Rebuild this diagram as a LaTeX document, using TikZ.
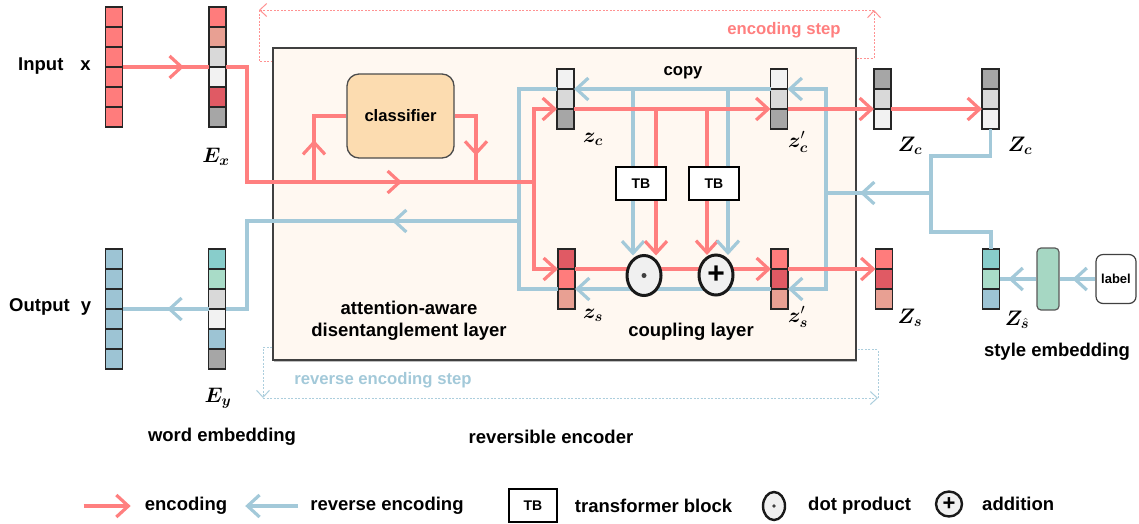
\RequirePackage{fix-cm}
\documentclass[tikz,border=0pt]{standalone}
\usepackage{bm}
\usepackage{fontspec}
\setmainfont{Liberation Sans}
\usetikzlibrary{arrows.meta,positioning,calc,shapes.geometric,decorations.markings,shadows}

\definecolor{encred}{HTML}{FF7F7F}
\definecolor{revblue}{HTML}{A3C9D9}
\definecolor{cred}{HTML}{FF7C7C}
\definecolor{cdred}{HTML}{E05A64}
\definecolor{cpink}{HTML}{E8A093}
\definecolor{clg}{HTML}{F2F2F2}
\definecolor{cmg}{HTML}{D9D9D9}
\definecolor{cdg}{HTML}{A6A6A6}
\definecolor{cteal}{HTML}{88CDCB}
\definecolor{cmint}{HTML}{A9DCC8}
\definecolor{cblue}{HTML}{9DC4D4}
\definecolor{boxfill}{HTML}{FFF8F1}
\definecolor{clsfill}{HTML}{FCDCB0}
\definecolor{embfill}{HTML}{A6D7C3}

\tikzset{
  vtip/.tip={Straight Barb[length=12pt,width=22pt]},
  stip/.tip={Straight Barb[length=7pt,width=13pt]},
}

% one column vector: name, x, top y, cell colours
\newcommand{\cellvec}[4]{%
  \foreach \c [count=\i] in {#4}
    \node[cell,fill=\c] (#1-\i) at (#2,{#3+(\i-0.5)*20}) {};}

\begin{document}
\begin{tikzpicture}[x=1pt,y=-1pt,
cell/.style={draw=black!85,line width=1.6pt,minimum width=17pt,minimum height=20pt,inner sep=0pt,outer sep=0pt},
enc/.style={draw=encred,line width=3.2pt},
rev/.style={draw=revblue,line width=3.2pt},
mid/.style={postaction={decorate,decoration={markings,mark=at position #1 with {\arrow{vtip}}}}},
encdot/.style={draw=encred!85,line width=1pt,dash pattern=on 2pt off 1.5pt},
revdot/.style={draw=revblue!90,line width=1pt,dash pattern=on 2pt off 1.5pt},
txt/.style={inner sep=0pt,font=\fontsize{18.5}{22}\selectfont\bfseries},
small/.style={inner sep=0pt,font=\fontsize{16.7}{18}\selectfont\bfseries},
mathlbl/.style={inner sep=0pt,font=\fontsize{21}{21}\selectfont},
tbblock/.style={draw=black,line width=1.5pt,fill=white,minimum width=50pt,minimum height=33pt,inner sep=0pt,font=\fontsize{14}{14}\selectfont\bfseries},
opcircle/.style={ellipse,draw=black!90,line width=3pt,fill=black!6,minimum width=34pt,minimum height=40pt,inner sep=0pt,outer sep=0pt},
encbox/.style={draw=black!75,line width=1.4pt,fill=boxfill,minimum width=583pt,minimum height=312pt,
  drop shadow={shadow xshift=0.6pt,shadow yshift=-1.8pt,fill=black!50}},
clsbox/.style={draw=black!70,line width=1.3pt,fill=clsfill,rounded corners=12pt,minimum width=107pt,minimum height=84pt,
  font=\fontsize{16.6}{17}\selectfont\bfseries}]
\useasboundingbox (0,0) rectangle (1139,523);

\node[encbox] (enc) at (564.5,204) {};
\node[clsbox] (cls) at (400.5,116) {classifier};

% vectors
\cellvec{inp}{114}{7}{cred,cred,cred,cred,cred,cred}
\cellvec{ex}{217.5}{7}{cred,cpink,cmg,clg,cdred,cdg}
\cellvec{out}{114}{249}{cblue,cblue,cblue,cblue,cblue,cblue}
\cellvec{ey}{217}{249}{cteal,cmint,cmg,clg,cblue,cdg}
\cellvec{zc}{565.5}{69}{clg,cmg,cdg}
\cellvec{zcp}{779}{69}{clg,cmg,cdg}
\cellvec{zs}{566.5}{249}{cdred,cred,cpink}
\cellvec{zsp}{779.5}{249}{cred,cdred,cpink}
\cellvec{Zc}{882.5}{69}{cdg,cmg,clg}
\cellvec{Zcc}{990.5}{69}{cdg,cmg,clg}
\cellvec{Zs}{884}{249}{cred,cdred,cpink}
\cellvec{Zh}{991}{249}{cteal,cmint,cblue}

\node[tbblock] (tb1) at (641,183.5) {TB};
\node[tbblock] (tb2) at (714,183.5) {TB};
\node[draw=black!65,line width=1.2pt,fill=embfill,rounded corners=4pt,minimum width=22pt,minimum height=62pt,inner sep=0pt] (emb) at (1048,279) {};
\node[draw=black!75,line width=1.2pt,fill=white,rounded corners=7pt,minimum width=40pt,minimum height=49pt,inner sep=0pt,
  font=\fontsize{13}{13}\selectfont\bfseries] (lab) at (1116,279) {label};

\coordinate (kin) at (534,182);
\coordinate (kex) at (247,182);
\coordinate (kup) at (314,182);
\coordinate (kdn) at (476,182);
\coordinate (kout) at (519,221);
\coordinate (kleft) at (247,221);
\coordinate (kright) at (826,193);
\coordinate (kmerge) at (931,193);

% reverse encoding
\draw[rev,-{vtip}] (kright) |- (zcp-1.south east);
\draw[rev,-{vtip}] (kright) |- (zsp-2.south east);
\draw[rev,-{vtip}] (zcp-1.south west) -- (zc-1.south east);
\draw[rev,-{vtip}] (zsp-2.south west) -- (zs-2.south east);
\draw[rev] (zc-1.south west) -| (kout);
\draw[rev] (zs-2.south west) -| (kout);
\draw[rev,mid=127pt] (kout) -- (kleft) |- (ey-3.south east);
\draw[rev,mid=0.48] (ey-3.south west) -- (out-3.south east);
\draw[rev] (Zcc-3.south) -- ++(0,27) -| (kmerge);
\draw[rev] (Zh-1.north) -- ++(0,-17) -| (kmerge);
\draw[rev,mid=71pt] (kmerge) -- (kright);
\draw[rev,mid=23pt] (lab.west) -- (emb.east);
\draw[rev,mid=28pt] (emb.west) -- (Zh-2.east);
\draw[rev] ([xshift=-8pt]tb1.north) -- ([xshift=-8pt]tb1.north |- zc-1.south);
\draw[rev] ([xshift=14pt]tb2.north) -- ([xshift=14pt]tb2.north |- zc-1.south);

% encoding
\draw[enc,mid=0.71] (inp-3.south east) -- (ex-3.south west);
\draw[enc,mid=291pt] (ex-3.south east) -| (kex) -- (kin);
\draw[enc,mid=42pt] (kup) |- (cls.west);
\draw[enc,mid=61pt] (cls.east) -| (kdn);
\draw[enc,-{vtip}] (kin) |- (zc-2.south west);
\draw[enc,-{vtip}] (kin) |- (zs-1.south west);
\draw[enc,-{vtip}] (zc-2.south east) -- (zcp-2.south west);
\draw[enc,-{vtip}] (zs-1.south east) -- (zsp-1.south west);
\draw[enc,-{vtip}] (zcp-2.south east) -- (Zc-2.south west);
\draw[enc,-{vtip}] (Zc-2.south east) -- (Zcc-2.south west);
\draw[enc,-{vtip}] (zsp-1.south east) -- (Zs-1.south west);
\draw[enc] ([xshift=15pt]tb1.north) -- ([xshift=15pt]tb1.north |- zc-2.south);
\draw[enc] ([xshift=-7pt]tb2.north) -- ([xshift=-7pt]tb2.north |- zc-2.south);

% coupling operators
\node[opcircle] (dot) at (644,275.5) {};
\fill[black!75] (dot.center) circle (2.5pt);
\node[opcircle,font=\fontsize{30}{30}\selectfont\bfseries] (plus) at (716,275) {+};
\draw[rev,-{vtip}] ([xshift=-8pt]tb1.south) -- ([xshift=-8pt]tb1.south |- dot.north);
\draw[enc,-{vtip}] ([xshift=15pt]tb1.south) -- ([xshift=15pt]tb1.south |- dot.north);
\draw[enc,-{vtip}] ([xshift=-7pt]tb2.south) -- ([xshift=-7pt]tb2.south |- plus.north);
\draw[rev,-{vtip}] ([xshift=14pt]tb2.south) -- ([xshift=14pt]tb2.south |- plus.north);

% step loops
\coordinate (es1) at (874,10);
\coordinate (es2) at (259,10);
\draw[encdot,-{stip}] ([yshift=-11pt]enc.north east) -| (es1);
\draw[encdot,-{stip}] (es1) -- (es2);
\draw[encdot] (es2) |- ([yshift=-14pt]enc.north west);
\coordinate (rs1) at (263,398);
\coordinate (rs2) at (878,398);
\draw[revdot,-{stip}] ([yshift=13pt]enc.south west) -| (rs1);
\draw[revdot,-{stip}] (rs1) -- (rs2);
\draw[revdot] (rs2) |- ([yshift=11pt]enc.south east);
\node[small,text=encred] (tes) at (784,30) {encoding step};
\node[small,text=revblue] (trs) at (383,380) {reverse encoding step};

% labels
\node[txt,anchor=west] (tin) at (18,66) {Input\hspace{17pt}x};
\node[txt,anchor=west] (tout) at (9,307) {Output\hspace{11pt}y};
\node[mathlbl] (lex) at (216,157) {$\bm{E}_{\bm{x}}$};
\node[mathlbl] (ley) at (218,398) {$\bm{E}_{\bm{y}}$};
\node[mathlbl] (lzc) at (593,139) {$\bm{z}_{\bm{c}}$};
\node[mathlbl] (lzcp) at (798,142) {$\bm{z}^{\prime}_{\bm{c}}$};
\node[mathlbl] (lzs) at (593,315) {$\bm{z}_{\bm{s}}$};
\node[mathlbl] (lzsp) at (798,317) {$\bm{z}^{\prime}_{\bm{s}}$};
\node[mathlbl] (lZc) at (910,146) {$\bm{Z}_{\bm{c}}$};
\node[mathlbl] (lZcc) at (1020,146) {$\bm{Z}_{\bm{c}}$};
\node[mathlbl] (lZs) at (910,318) {$\bm{Z}_{\bm{s}}$};
\node[mathlbl] (lZh) at (1017,320) {$\bm{Z}_{\hat{\bm{s}}}$};
\node[small] (tcopy) at (683,73) {copy};
\node[txt,align=center] (tatt) at (409,321) {attention-aware\\disentanglement layer};
\node[txt] (tcpl) at (691,332) {coupling layer};
\node[txt] (tstyle) at (1057,352) {style embedding};
\node[txt] (tword) at (222,437) {word embedding};
\node[txt] (trev) at (551,437) {reversible encoder};

% legend
\node[txt] (lgenc) at (186,506) {encoding};
\draw[enc,-{vtip}] ([xshift=-61pt]lgenc.west) -- ([xshift=-14pt]lgenc.west);
\node[txt] (lgrev) at (387,506) {reverse encoding};
\draw[rev,-{vtip}] ([xshift=-12pt]lgrev.west) -- ([xshift=-65pt]lgrev.west);
\node[tbblock,minimum width=48pt] (lgtb) at (533,505.5) {TB};
\node[txt,right=17pt of lgtb] (lgtbt) {transformer block};
\node[opcircle,minimum width=22pt,minimum height=28pt,line width=2.4pt] (lgdot) at (774,506) {};
\fill[black!75] (lgdot.center) circle (1.8pt);
\node[txt,right=23pt of lgdot] (lgdott) {dot product};
\node[opcircle,minimum width=26pt,minimum height=25pt,line width=2.4pt,font=\fontsize{22}{22}\selectfont\bfseries] (lgplus) at (949,504) {+};
\node[txt,right=20pt of lgplus] (lgplust) {addition};
\end{tikzpicture}
\end{document}
